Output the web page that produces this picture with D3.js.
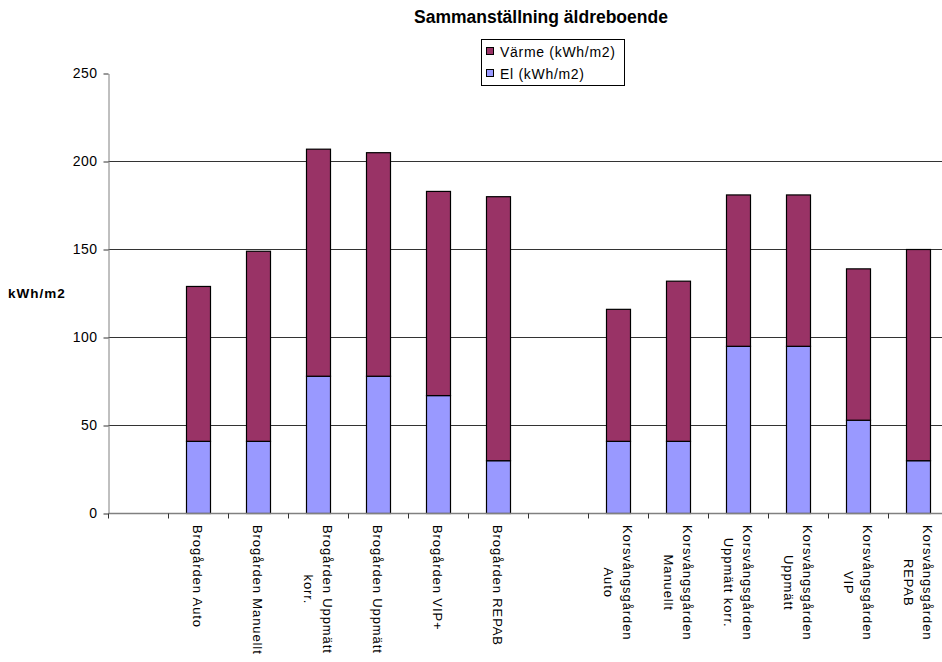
<!DOCTYPE html>
<html>
<head>
<meta charset="utf-8">
<script src="https://cdn.jsdelivr.net/npm/d3@7/dist/d3.min.js"></script>
<style>
  html, body { margin: 0; padding: 0; background: #fff; }
  svg { display: block; font-family: "Liberation Sans", Arial, sans-serif; }
</style>
</head>
<body>
<svg id="chart" width="942" height="662"></svg>
<script>
// Category slots (blank slots separate the two buildings), label lines per slot
const categoryLines = [
  [],
  ["Brogården Auto"],
  ["Brogården Manuellt"],
  ["Brogården Uppmätt", "korr."],
  ["Brogården Uppmätt"],
  ["Brogården VIP+"],
  ["Brogården REPAB"],
  [],
  ["Korsvångsgården", "Auto"],
  ["Korsvångsgården", "Manuellt"],
  ["Korsvångsgården", "Uppmätt korr."],
  ["Korsvångsgården", "Uppmätt"],
  ["Korsvångsgården", "VIP"],
  ["Korsvångsgården", "REPAB"]
];

// Series values (kWh/m2); null = empty slot
const elValues    = [null, 41, 41, 78, 78, 67, 30, null, 41, 41, 95, 95, 53, 30];
const varmeValues = [null, 88, 108, 129, 127, 116, 150, null, 75, 91, 86, 86, 86, 120];

const yTicks = [0, 50, 100, 150, 200, 250];
const gridTicks = [50, 100, 150, 200];

const seriesNames = { el: "El (kWh/m2)", varme: "Värme (kWh/m2)" };
const seriesColors = { el: "#9999FF", varme: "#993366" };

const title = "Sammanställning äldreboende";
const yLabel = "kWh/m2";

const svg = d3.select("#chart");

const x = d3.scaleBand()
  .domain(d3.range(categoryLines.length))
  .range([108.5, 948.5])
  .paddingInner(0.6)
  .paddingOuter(0.3);

const y = d3.scaleLinear().domain([0, 250]).range([513.5, 73.5]);

// Gridlines
svg.append("g")
  .selectAll("line")
  .data(gridTicks)
  .join("line")
  .attr("x1", x.range()[0])
  .attr("x2", x.range()[1])
  .attr("y1", d => y(d))
  .attr("y2", d => y(d))
  .attr("stroke", "#333")
  .attr("stroke-width", 1);

// Stacked bars
const rows = elValues.map((v, i) => ({ i, el: v || 0, varme: varmeValues[i] || 0, has: v != null }));
const stacked = d3.stack().keys(["el", "varme"])(rows);

svg.append("g")
  .selectAll("g")
  .data(stacked)
  .join("g")
  .attr("fill", s => seriesColors[s.key])
  .selectAll("rect")
  .data(s => s.filter(d => d.data.has))
  .join("rect")
  .attr("x", d => x(d.data.i))
  .attr("width", x.bandwidth())
  .attr("y", d => y(d[1]))
  .attr("height", d => y(d[0]) - y(d[1]))
  .attr("stroke", "#000")
  .attr("stroke-width", 1.2);

// Y axis
const yAxis = svg.append("g")
  .attr("transform", `translate(${x.range()[0]},0)`)
  .call(d3.axisLeft(y).tickValues(yTicks).tickSize(5).tickSizeOuter(0).tickPadding(6));
yAxis.select(".domain").attr("stroke", "#808080");
yAxis.selectAll(".tick line").attr("stroke", "#333");
yAxis.selectAll(".tick text")
  .attr("font-size", 14)
  .attr("letter-spacing", 0.5)
  .attr("fill", "#000")
  .attr("font-family", "Liberation Sans, Arial, sans-serif");

// X axis line with ticks at slot boundaries
const step = x.step();
const boundaries = d3.range(categoryLines.length + 1).map(i => x.range()[0] + i * step);
const xAxis = svg.append("g");
xAxis.append("line")
  .attr("x1", x.range()[0]).attr("x2", x.range()[1])
  .attr("y1", y(0)).attr("y2", y(0))
  .attr("stroke", "#808080").attr("stroke-width", 1.5);
xAxis.selectAll("line.tick")
  .data(boundaries)
  .join("line")
  .attr("class", "tick")
  .attr("x1", d => d).attr("x2", d => d)
  .attr("y1", y(0)).attr("y2", y(0) + 5)
  .attr("stroke", "#333");

// Rotated category labels
const labelTop = 525;
const lineGap = 19.3;
categoryLines.forEach((lines, i) => {
  if (!lines.length) return;
  const cx = x(i) + x.bandwidth() / 2;
  const g = svg.append("g").attr("transform", `translate(${cx},${labelTop}) rotate(90)`);
  const n = lines.length;
  const texts = lines.map((t, k) => g.append("text")
    .attr("text-anchor", "middle")
    .attr("font-size", 13)
    .attr("letter-spacing", 0.9)
    .attr("y", 5.2 + lineGap * (k - (n - 1) / 2))
    .text(t));
  const maxLen = d3.max(texts, t => t.node().getComputedTextLength());
  texts.forEach(t => t.attr("x", maxLen / 2));
});

// Title
svg.append("text")
  .attr("x", 541).attr("y", 23)
  .attr("text-anchor", "middle")
  .attr("font-size", 17.5)
  .attr("font-weight", "bold")
  .text(title);

// Y axis title
svg.append("text")
  .attr("x", 8).attr("y", 298)
  .attr("font-size", 13.5)
  .attr("font-weight", "bold")
  .attr("letter-spacing", 1)
  .text(yLabel);

// Legend
const legend = svg.append("g");
legend.append("rect")
  .attr("x", 481.5).attr("y", 39.5).attr("width", 143).attr("height", 46)
  .attr("fill", "#fff").attr("stroke", "#000");
const legendItems = ["varme", "el"];
legendItems.forEach((k, j) => {
  const cy = 51 + j * 22;
  legend.append("rect")
    .attr("x", 486.5).attr("y", cy - 3.5).attr("width", 7).attr("height", 7)
    .attr("fill", seriesColors[k]).attr("stroke", "#000");
  legend.append("text")
    .attr("x", 500).attr("y", cy + 5.5)
    .attr("font-size", 14)
    .attr("letter-spacing", 0.7)
    .text(seriesNames[k]);
});
</script>
</body>
</html>
